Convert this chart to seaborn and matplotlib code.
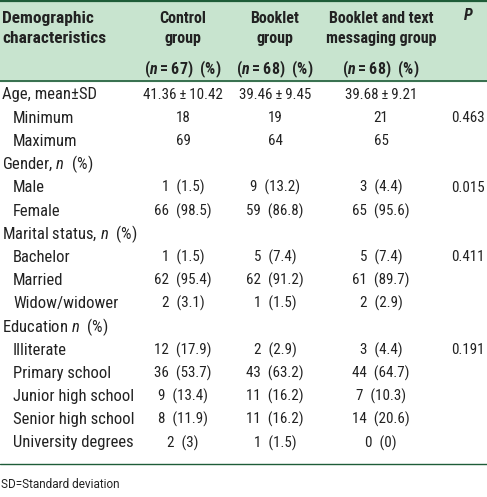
import matplotlib
matplotlib.use("Agg")
import matplotlib.pyplot as plt
import seaborn as sns

sns.set_theme(style="white")
plt.rcParams['font.family'] = ['Roboto Condensed', 'Roboto', 'DejaVu Sans']
plt.rcParams['mathtext.fontset'] = 'custom'
plt.rcParams['mathtext.rm'] = 'Roboto Condensed'
plt.rcParams['mathtext.it'] = 'Roboto Condensed:italic'
plt.rcParams['mathtext.bf'] = 'Roboto Condensed:bold'
plt.rcParams['mathtext.bfit'] = 'Roboto Condensed:italic:bold'

headers = ["Demographic\ncharacteristics", "Control\ngroup", "Booklet\ngroup",
           "Booklet and text\nmessaging group", "P"]
subheaders = ["($\\mathbfit{n}$\u2009=\u200967)  (%)", "($\\mathbfit{n}$\u2009=\u200968)  (%)",
              "($\\mathbfit{n}$\u2009=\u200968)  (%)"]

row_labels = ["Age, mean\u00b1SD", "Minimum", "Maximum", "Gender, $n$  (%)", "Male", "Female",
              "Marital status, $n$  (%)", "Bachelor", "Married", "Widow/widower",
              "Education $n$  (%)", "Illiterate", "Primary school", "Junior high school",
              "Senior high school", "University degrees"]
indented = [False, True, True, False, True, True, False, True, True, True,
            False, True, True, True, True, True]
control = ["41.36\u2009\u00b1\u200910.42", "18", "69", "", "1  (1.5)", "66  (98.5)", "", "1  (1.5)",
           "62  (95.4)", "2  (3.1)", "", "12  (17.9)", "36  (53.7)", "9  (13.4)",
           "8  (11.9)", "2  (3)"]
booklet = ["39.46\u2009\u00b1\u20099.45", "19", "64", "", "9  (13.2)", "59  (86.8)", "", "5  (7.4)",
           "62  (91.2)", "1  (1.5)", "", "2  (2.9)", "43  (63.2)", "11  (16.2)",
           "11  (16.2)", "1  (1.5)"]
texting = ["39.68\u2009\u00b1\u20099.21", "21", "65", "", "3  (4.4)", "65  (95.6)", "", "5  (7.4)",
           "61  (89.7)", "2  (2.9)", "", "3  (4.4)", "44  (64.7)", "7  (10.3)",
           "14  (20.6)", "0  (0)"]
pvals = ["", "0.463", "", "", "0.015", "", "", "0.411", "", "", "", "0.191", "", "", "", ""]
footnote = "SD=Standard deviation"

W, H = 487, 497
fig = plt.figure(figsize=(W / 100, H / 100), dpi=100)
ax = fig.add_axes([0, 0, 1, 1])
ax.set_xlim(0, W)
ax.set_ylim(H, 0)
ax.axis("off")

green_bg = "#c8e4cf"
green_line = "#1e5c38"
txt = "#222222"
fs_lab = 12
fs_val = 10.8
fs_hd = 11.5

ax.add_patch(plt.Rectangle((0, 1), W, 80, color=green_bg, zorder=0))
ax.plot([0, W], [1, 1], color=green_line, lw=1.6)
ax.plot([0, W], [81, 81], color=green_line, lw=1.2)
ax.plot([0, W], [464, 464], color=green_line, lw=1.0)

col_x = [183, 275, 381]
ax.text(2, 28.5, headers[0], ha="left", va="center", fontsize=12.5, fontweight="bold",
        color=txt, linespacing=1.35)
for x, h in zip(col_x, headers[1:4]):
    ax.text(x, 28.5, h, ha="center", va="center", fontsize=fs_hd, fontweight="bold",
            color=txt, linespacing=1.45)
ax.text(468, 16, headers[4], ha="center", va="center", fontsize=fs_hd, fontweight="bold",
        style="italic", color=txt)
for x, s in zip(col_x, subheaders):
    ax.text(x, 69, s, ha="center", va="center", fontsize=fs_hd, fontweight="bold", color=txt)

y0, dy = 95, 23.2
for i, lab in enumerate(row_labels):
    y = y0 + i * dy
    ax.text(13 if indented[i] else 2, y, lab, ha="left", va="center", fontsize=fs_lab, color=txt)
    for x, vals in zip(col_x, [control, booklet, texting]):
        if vals[i]:
            ax.text(x, y, vals[i], ha="center", va="center", fontsize=fs_val, color=txt)
    if pvals[i]:
        ax.text(485, y, pvals[i], ha="right", va="center", fontsize=fs_val, color=txt)

ax.text(1, 484, footnote, ha="left", va="center", fontsize=8.5, color=txt,
        family=["Roboto", "DejaVu Sans"])

fig.savefig("out.png", dpi=100)
